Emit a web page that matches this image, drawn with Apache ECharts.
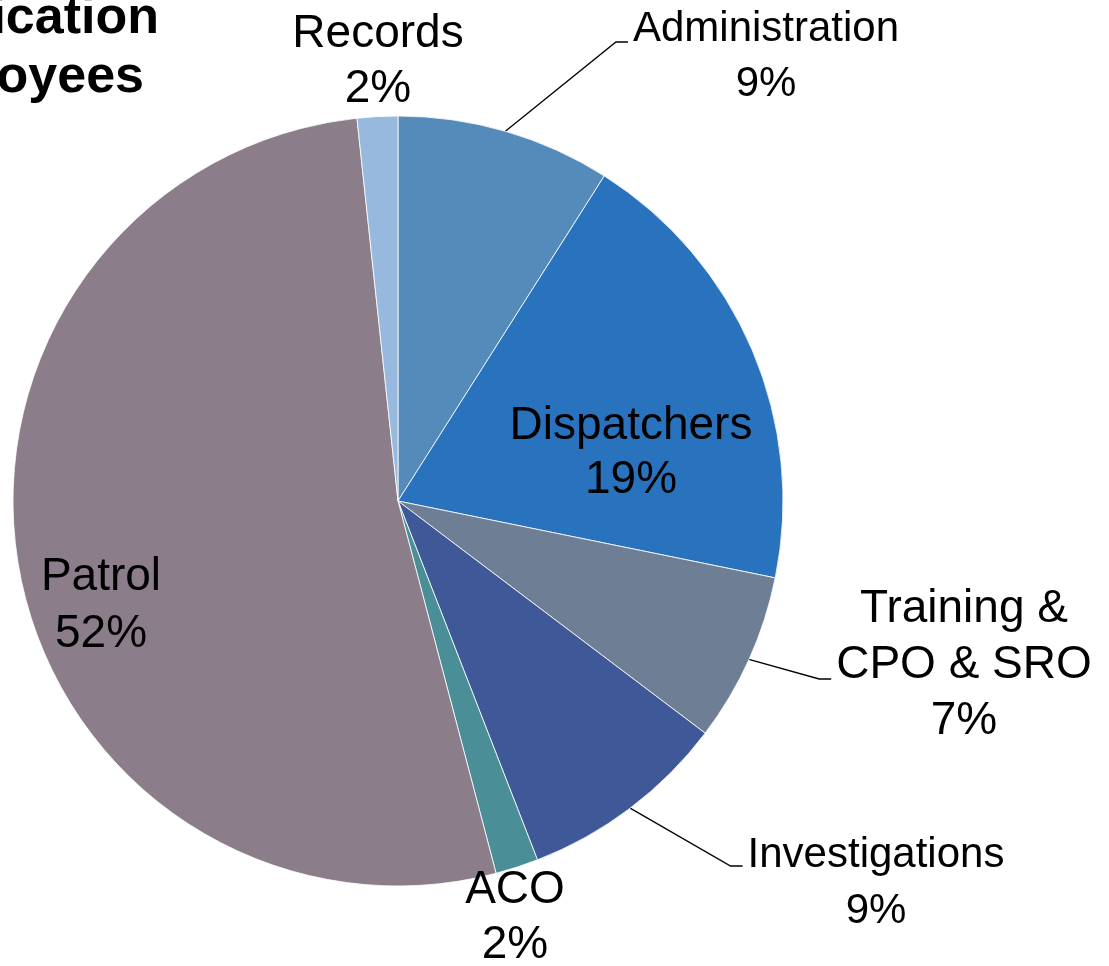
<!DOCTYPE html>
<html>
<head>
<meta charset="utf-8">
<script src="https://cdn.jsdelivr.net/npm/echarts@6/dist/echarts.min.js"></script>
<style>
html,body{margin:0;padding:0;background:#fff;}
#chart{width:1109px;height:966px;}
</style>
</head>
<body>
<div id="chart"></div>
<script>
// slices, clockwise from 12 o'clock
var categories = ['Administration', 'Dispatchers', 'Training &\nCPO & SRO', 'Investigations', 'ACO', 'Patrol', 'Records'];
var shares = [9.0, 19.2, 7.1, 8.8, 1.8, 52.4, 1.7];
var colors = ['#558bba', '#2872be', '#6e7e94', '#3f5898', '#4a8f98', '#8b7e8a', '#98b9de'];

// label placement: [centerX, centerY, elbowY or null], font size, line height
var labelPos = [
    [766, 57, 42],
    [631, 453, null],
    [964, 665, 679],
    [876, 883, 866],
    [515, 918, null],
    [101, 606, null],
    [378, 62, null]
];
var labelFont = [42, 46, 46, 42, 46, 46, 46];
var labelLH = [55, 54, 56, 56, 55, 57, 55];

var chart = echarts.init(document.getElementById('chart'));

var items = categories.map(function (c, i) {
    return {
        name: c,
        value: shares[i],
        itemStyle: { color: colors[i] },
        label: { fontSize: labelFont[i], lineHeight: labelLH[i] },
        labelLine: { show: labelPos[i][2] != null }
    };
});

chart.setOption({
    animation: false,
    graphic: [
        {
            type: 'text',
            style: { text: 'Classification', x: 159, y: 19, align: 'right', verticalAlign: 'middle',
                font: 'bold 52px "Liberation Sans"', fill: '#000' }
        },
        {
            type: 'text',
            style: { text: 'of Employees', x: 144, y: 78, align: 'right', verticalAlign: 'middle',
                font: 'bold 52px "Liberation Sans"', fill: '#000' }
        }
    ],
    series: [{
        type: 'pie',
        center: [398, 501],
        radius: 385,
        startAngle: 90,
        clockwise: true,
        avoidLabelOverlap: false,
        itemStyle: { borderColor: 'rgba(255,255,255,0.8)', borderWidth: 1 },
        label: {
            show: true,
            position: 'outside',
            color: '#000',
            fontFamily: 'Liberation Sans',
            align: 'center',
            formatter: function (p) {
                return p.name + '\n' + Math.round(p.percent) + '%';
            }
        },
        labelLine: {
            show: true,
            length: 20,
            length2: 10,
            lineStyle: { color: '#000', width: 1.3 }
        },
        labelLayout: function (params) {
            var p = labelPos[params.dataIndex];
            var out = { x: p[0], y: p[1], align: 'center', verticalAlign: 'middle' };
            if (p[2] != null && params.labelLinePoints) {
                var end = p[0] - params.labelRect.width / 2 - 5;
                out.labelLinePoints = [params.labelLinePoints[0], [end - 12, p[2]], [end, p[2]]];
            }
            return out;
        },
        data: items
    }]
});
</script>
</body>
</html>
